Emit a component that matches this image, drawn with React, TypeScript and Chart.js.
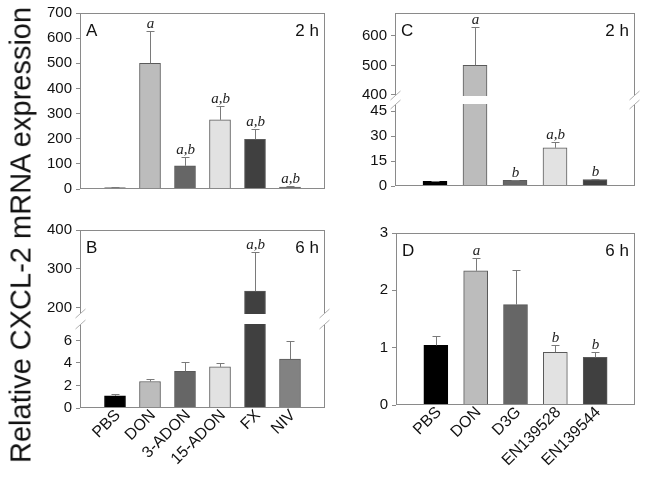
import React, { useEffect, useRef } from 'react';
import { Chart, registerables } from 'chart.js';
Chart.register(...registerables);

// ---- data ----
const groupsAB = ['PBS', 'DON', '3-ADON', '15-ADON', 'FX', 'NIV'];
const groupsCD = ['PBS', 'DON', 'D3G', 'EN139528', 'EN139544'];
const colorsAB = ['#000000', '#bcbcbc', '#666666', '#e2e2e2', '#404040', '#828282'];
const colorsCD = ['#000000', '#bcbcbc', '#666666', '#e2e2e2', '#404040'];

const valuesA = [5, 500, 92, 275, 198, 8];
const errA = [1, 130, 35, 56, 40, 4];
const lettersA = ['', 'a', 'a,b', 'a,b', 'a,b', 'a,b'];

const valuesB = [1.07, 2.35, 3.25, 3.65, 242, 4.35];
const errB = [0.17, 0.23, 0.8, 0.35, 102, 1.6];
const lettersB = ['', '', '', '', 'a,b', ''];

const valuesC = [2.8, 500, 3.4, 23, 3.9];
const errC = [0.3, 132, 0.5, 3.3, 0.4];
const lettersC = ['', 'a', 'b', 'a,b', 'b'];

const valuesD = [1.04, 2.34, 1.75, 0.92, 0.83];
const errD = [0.16, 0.23, 0.6, 0.12, 0.1];
const lettersD = ['', 'a', '', 'b', 'b'];

const ticksA = [0, 100, 200, 300, 400, 500, 600, 700];
const ticksBUpper = [200, 300, 400];
const ticksBLower = [0, 2, 4, 6];
const ticksCUpper = [400, 500, 600];
const ticksCLower = [0, 15, 30, 45];
const ticksD = [0, 1, 2, 3];

const SANS = '"Liberation Sans", Arial, sans-serif';
const SERIF = '"Liberation Serif", "Times New Roman", serif';
const FRAME = '#8a8a8a';

type Panel = {
  groups: string[];
  values: number[];
  errs: number[];
  letters: string[];
  colors: string[];
  min: number;
  max: number;
  ticks: number[];
  bar: number;
  plot: { l: number; t: number; r: number; b: number };
  xh: number;
  frameTop: boolean;
  frameBottom: boolean;
  breakTop?: boolean;
  breakBottom?: boolean;
  tag?: string;
  time?: string;
};

const YW = 50;
const PAD_T = 16;
const PAD_R = 12;
const PAD_B = 16;

function PanelChart({ p }: { p: Panel }) {
  const ref = useRef<HTMLCanvasElement>(null);
  const left = p.plot.l - YW;
  const top = p.plot.t - PAD_T;
  const width = YW + (p.plot.r - p.plot.l) + PAD_R;
  const xh = p.xh > 0 ? p.xh : PAD_B;
  const height = PAD_T + (p.plot.b - p.plot.t) + xh;

  useEffect(() => {
    const labels = ['', ...p.groups, ''];
    const data = [null, ...p.values.map((v) => (v > p.min ? v : null)), null];
    const bg = ['#fff', ...p.colors, '#fff'];
    const bc = ['#fff', ...p.colors.map((c) => (c === '#000000' ? '#000000' : '#5a5a5a')), '#fff'];

    const deco = {
      id: 'deco',
      afterDatasetsDraw(chart: any) {
        const ctx = chart.ctx;
        const a = chart.chartArea;
        const xs = chart.scales.x;
        const ys = chart.scales.y;
        ctx.save();
        // error bars and letters
        p.values.forEach((v, i) => {
          const topV = v + p.errs[i];
          if (topV < p.min || topV > p.max) return;
          const x = Math.round(xs.getPixelForValue(i + 1)) + 0.5;
          const y0 = ys.getPixelForValue(Math.max(v, p.min));
          const y1 = Math.round(ys.getPixelForValue(topV)) + 0.5;
          ctx.strokeStyle = '#7a7a7a';
          ctx.lineWidth = 1;
          ctx.beginPath();
          ctx.moveTo(x, y0);
          ctx.lineTo(x, y1);
          ctx.moveTo(x - 4, y1);
          ctx.lineTo(x + 4, y1);
          ctx.stroke();
          if (p.letters[i]) {
            ctx.fillStyle = '#222';
            ctx.font = 'italic 15px ' + SERIF;
            ctx.textAlign = 'center';
            ctx.textBaseline = 'alphabetic';
            ctx.fillText(p.letters[i], x, y1 - 4);
          }
        });
        // frame
        const L = Math.round(a.left) + 0.5;
        const R = Math.round(a.right) - 0.5;
        const T = Math.round(a.top) + 0.5;
        const B = Math.round(a.bottom) - 0.5;
        ctx.strokeStyle = FRAME;
        ctx.lineWidth = 1;
        ctx.beginPath();
        ctx.moveTo(L, a.top);
        ctx.lineTo(L, a.bottom);
        ctx.moveTo(R, a.top);
        ctx.lineTo(R, a.bottom);
        if (p.frameTop) {
          ctx.moveTo(a.left, T);
          ctx.lineTo(a.right, T);
        }
        if (p.frameBottom) {
          ctx.moveTo(a.left, B);
          ctx.lineTo(a.right, B);
        }
        ctx.stroke();
        // break marks
        ctx.strokeStyle = '#b0b0b0';
        ctx.beginPath();
        [L, R].forEach((x) => {
          if (p.breakBottom) {
            ctx.moveTo(x - 5, a.bottom + 4);
            ctx.lineTo(x + 5, a.bottom - 5);
          }
          if (p.breakTop) {
            ctx.moveTo(x - 5, a.top + 5);
            ctx.lineTo(x + 5, a.top - 4);
          }
        });
        ctx.stroke();
        // panel labels
        ctx.fillStyle = '#111';
        ctx.font = '17px ' + SANS;
        ctx.textBaseline = 'alphabetic';
        if (p.tag) {
          ctx.textAlign = 'left';
          ctx.fillText(p.tag, a.left + 6, a.top + 23);
        }
        if (p.time) {
          ctx.textAlign = 'right';
          ctx.fillText(p.time, a.right - 6, a.top + 23);
        }
        ctx.restore();
      },
    };

    const chart = new Chart(ref.current as HTMLCanvasElement, {
      type: 'bar',
      data: {
        labels,
        datasets: [
          {
            data,
            backgroundColor: bg,
            borderColor: bc,
            borderWidth: 1,
            barThickness: p.bar,
            clip: 0,
          } as any,
        ],
      },
      options: {
        animation: false,
        responsive: false,
        devicePixelRatio: 1,
        layout: { padding: { top: PAD_T, bottom: 0, left: 0, right: PAD_R } },
        plugins: { legend: { display: false }, tooltip: { enabled: false } },
        scales: {
          x: {
            type: 'category',
            offset: false,
            display: true,
            grid: { display: false, drawTicks: false },
            border: { display: false },
            ticks: {
              display: p.xh > 0,
              autoSkip: false,
              maxRotation: 45,
              minRotation: 45,
              padding: -2,
              labelOffset: 3,
              color: '#111',
              font: { family: SANS, size: 16 },
            },
            afterFit: (s: any) => {
              s.height = xh;
            },
          },
          y: {
            min: p.min,
            max: p.max,
            grid: {
              drawOnChartArea: false,
              drawTicks: true,
              tickLength: 4,
              color: FRAME,
            },
            border: { display: false },
            ticks: {
              padding: 4,
              color: '#111',
              font: { family: SANS, size: 15 },
            },
            afterBuildTicks: (s: any) => {
              s.ticks = p.ticks.map((v) => ({ value: v }));
            },
            afterFit: (s: any) => {
              s.width = YW;
            },
          },
        },
      } as any,
      plugins: [deco],
    });
    return () => chart.destroy();
  }, []);

  return (
    <canvas
      ref={ref}
      width={width}
      height={height}
      style={{ position: 'absolute', left, top, width, height }}
    />
  );
}

const panels: Panel[] = [
  {
    groups: groupsAB, values: valuesA, errs: errA, letters: lettersA, colors: colorsAB,
    min: 0, max: 700, ticks: ticksA, bar: 21,
    plot: { l: 80, t: 13, r: 325, b: 189 }, xh: 0,
    frameTop: true, frameBottom: true, tag: 'A', time: '2 h',
  },
  {
    groups: groupsAB, values: valuesB, errs: errB, letters: lettersB, colors: colorsAB,
    min: 183, max: 400, ticks: ticksBUpper, bar: 21,
    plot: { l: 80, t: 230, r: 325, b: 314 }, xh: 0,
    frameTop: true, frameBottom: false, breakBottom: true, tag: 'B', time: '6 h',
  },
  {
    groups: groupsAB, values: valuesB, errs: errB, letters: lettersB, colors: colorsAB,
    min: 0, max: 7.46, ticks: ticksBLower, bar: 21,
    plot: { l: 80, t: 324, r: 325, b: 408 }, xh: 74,
    frameTop: false, frameBottom: true, breakTop: true,
  },
  {
    groups: groupsCD, values: valuesC, errs: errC, letters: lettersC, colors: colorsCD,
    min: 396, max: 678, ticks: ticksCUpper, bar: 24,
    plot: { l: 395, t: 13, r: 635, b: 96 }, xh: 0,
    frameTop: true, frameBottom: false, breakBottom: true, tag: 'C', time: '2 h',
  },
  {
    groups: groupsCD, values: valuesC, errs: errC, letters: lettersC, colors: colorsCD,
    min: 0, max: 49.4, ticks: ticksCLower, bar: 24,
    plot: { l: 395, t: 104, r: 635, b: 186 }, xh: 0,
    frameTop: false, frameBottom: true, breakTop: true,
  },
  {
    groups: groupsCD, values: valuesD, errs: errD, letters: lettersD, colors: colorsCD,
    min: 0, max: 3, ticks: ticksD, bar: 24,
    plot: { l: 396, t: 233, r: 635, b: 405 }, xh: 77,
    frameTop: true, frameBottom: true, tag: 'D', time: '6 h',
  },
];

export default function App() {
  return (
    <div
      style={{
        position: 'absolute',
        left: 0,
        top: 0,
        width: 648,
        height: 482,
        background: '#fff',
        overflow: 'hidden',
      }}
    >
      {panels.map((p, i) => (
        <PanelChart key={i} p={p} />
      ))}
      <div
        style={{
          position: 'absolute',
          left: 21,
          top: 235,
          transform: 'translate(-50%, -50%) rotate(-90deg)',
          whiteSpace: 'nowrap',
          fontFamily: SANS,
          fontSize: 29,
          color: '#111',
          lineHeight: 1,
        }}
      >
        Relative CXCL-2 mRNA expression
      </div>
    </div>
  );
}
